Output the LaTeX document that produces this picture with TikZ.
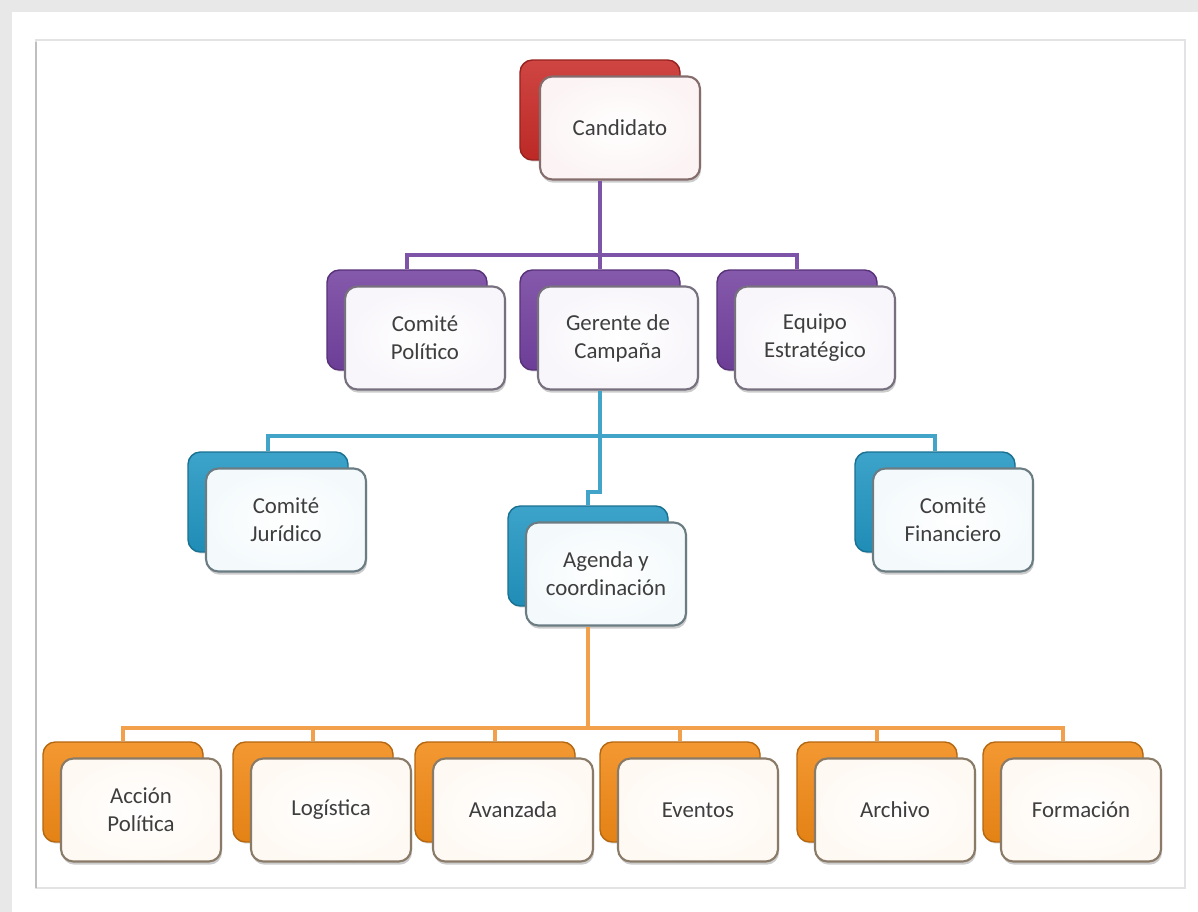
\documentclass[tikz,border=0pt]{standalone}
\usepackage{fontspec}
\setmainfont{Carlito}
\usetikzlibrary{shadows, positioning}
\definecolor{candred}{RGB}{200,44,40}
\definecolor{compurple}{RGB}{116,66,160}
\definecolor{gerblue}{RGB}{34,150,194}
\definecolor{agorange}{RGB}{242,138,22}
\definecolor{purpleline}{RGB}{126,84,168}
\definecolor{blueline}{RGB}{66,164,200}
\definecolor{orangeline}{RGB}{242,160,76}
\definecolor{labelgray}{RGB}{62,62,62}
\definecolor{panelgray}{RGB}{232,232,232}

\tikzset{
  backbox/.style={rectangle, rounded corners=7pt, minimum width=3.2cm, minimum height=2cm,
    draw=#1!75!black, line width=0.8pt, top color=#1!88!white, bottom color=#1!94!black,
    drop shadow={shadow xshift=0.6pt, shadow yshift=-1pt, opacity=0.25}},
  frontbox/.style={rectangle, rounded corners=7pt, minimum width=3.2cm, minimum height=2.06cm,
    draw=#1!25!black!60!white, line width=1.2pt, inner color=white, outer color=#1!5!white,
    drop shadow={shadow xshift=0.6pt, shadow yshift=-1.8pt, opacity=0.4},
    align=center, text=labelgray, font=\fontsize{13}{16}\selectfont},
  link/.style={draw=#1, line width=2pt}
}

\begin{document}
\begin{tikzpicture}[x=0.02cm, y=-0.02cm]
  % page and frame
  \useasboundingbox (0,0) rectangle (1198,912);
  \fill[panelgray] (0,0) rectangle (1198,912);
  \fill[white] (12,12) rectangle (1198,912);
  \draw[gray!22, line width=0.8pt] (36,40) rectangle (1185,888);
  \draw[gray!50, line width=1.2pt] (36,42) -- (36,888);

  % level 1
  \node[backbox=candred] (cand-b) at (600,110) {};
  \node[frontbox=candred] (cand) at (620,128) {Candidato};

  % level 2
  \node[backbox=compurple] (pol-b) at (407,320) {};
  \node[frontbox=compurple] (pol) at (425,338) {Comité\\Político};
  \node[backbox=compurple] (ger-b) at (600,320) {};
  \node[frontbox=compurple] (ger) at (618,338) {Gerente de\\Campaña};
  \node[backbox=compurple] (est-b) at (797,320) {};
  \node[frontbox=compurple] (est) at (815,338) {Equipo\\Estratégico};

  % level 3
  \node[backbox=gerblue] (jur-b) at (268,502) {};
  \node[frontbox=gerblue] (jur) at (286,520) {Comité\\Jurídico};
  \node[backbox=gerblue] (agen-b) at (588,556) {};
  \node[frontbox=gerblue] (agen) at (606,574) {Agenda y\\coordinación};
  \node[backbox=gerblue] (fin-b) at (935,502) {};
  \node[frontbox=gerblue] (fin) at (953,520) {Comité\\Financiero};

  % level 4
  \foreach \nm/\xx/\txt in {acc/123/{Acción\\Política}, log/313/Logística, ava/495/Avanzada,
      evt/680/Eventos, arc/877/Archivo, for/1063/Formación} {
    \node[backbox=agorange] (\nm-b) at (\xx,792) {};
    \node[frontbox=agorange] (\nm) at (\xx+18,810) {\txt};
  }

  % connectors
  \coordinate (bus1) at (0,255);
  \coordinate (bus2) at (0,436);
  \coordinate (jog) at (0,492);
  \coordinate (bus3) at (0,728);

  \draw[link=purpleline] (cand-b |- cand.south) -- (ger-b.north);
  \draw[link=purpleline] (pol-b.north) |- (est-b.north |- bus1) -- (est-b.north);

  \draw[link=blueline] (ger-b |- ger.south) -- (ger-b |- jog) -| (agen-b.north);
  \draw[link=blueline] (jur-b.north) |- (fin-b.north |- bus2) -- (fin-b.north);

  \draw[link=orangeline] (agen-b |- agen.south) -- (agen-b |- bus3);
  \draw[link=orangeline] (acc-b.north) |- (for-b.north |- bus3) -- (for-b.north);
  \foreach \nm in {log, ava, evt, arc}
    \draw[link=orangeline] (\nm-b.north) -- (\nm-b.north |- bus3);
\end{tikzpicture}
\end{document}
